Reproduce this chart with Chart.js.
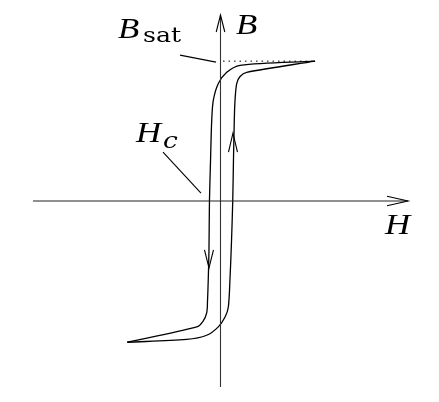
<!DOCTYPE html>
<html>
<head>
<meta charset="utf-8">
<script src="https://cdn.jsdelivr.net/npm/chart.js@4"></script>
<style>
  body { margin: 0; background: #fff; }
</style>
</head>
<body>
<canvas id="loop" width="439" height="402"></canvas>
<script>
// descending branch (from +saturation down to -saturation)
const H_DOWN = [7.88, 1.63, 0.52, -0.18, -0.6, -0.73, -0.83, -0.92, -0.96, -1.02, -1.08, -1.15, -1.46, -1.98, -7.77];
const B_DOWN = [1.0, 0.97, 0.92, 0.84, 0.72, 0.58, 0.29, 0, -0.35, -0.56, -0.71, -0.8, -0.86, -0.9, -1.01];
// ascending branch
const H_UP = [-7.77, -2.82, -1.15, -0.18, 0.38, 0.65, 0.79, 0.92, 1.02, 1.08, 1.15, 1.21, 1.35, 1.63, 2.18, 7.88];
const B_UP = [-1.01, -0.99, -0.96, -0.9, -0.83, -0.76, -0.56, -0.28, 0, 0.29, 0.58, 0.72, 0.84, 0.89, 0.92, 1.0];

const B_SAT = 1.0;
const H_MAX = 15.625, B_MAX = 1.33;

function pts(xs, ys) { return xs.map((x, i) => ({x: x, y: ys[i]})); }

// arrows on curve and axis ends: tip position and direction
const arrows = [
  {h: 1.04, b: 0.486, dir: 'up', len: 19, half: 4.5},
  {h: -0.96, b: -0.479, dir: 'down', len: 18, half: 4.5},
  {h: H_MAX, b: 0, dir: 'right', len: 21, half: 4.7},
  {h: 0, b: B_MAX, dir: 'up', len: 17, half: 4.3}
];

// leader lines for labels
const leaders = [
  [-3.375, 1.043, -0.375, 0.993],
  [-4.79, 0.35, -1.625, 0.057]
];

const MAIN_FONT = "italic 29px 'Liberation Serif'";
const STRETCH = 1.2;
const labels = [
  {h: 1.29, b: 1.193, main: 'B'},
  {h: 13.71, b: -0.236, main: 'H'},
  {h: -8.54, b: 1.164, main: 'B', sub: 'sat', subFont: "21px 'DejaVu Serif'", dx: 25, dy: 3.7},
  {h: -7.04, b: 0.424, main: 'H', sub: 'c', subFont: "italic 22px 'DejaVu Serif'", dx: 27, dy: 6.3}
];

function stretchedText(ctx, txt, font, x, y) {
  ctx.save();
  ctx.font = font;
  ctx.translate(x, y);
  ctx.scale(STRETCH, 1);
  ctx.fillText(txt, 0, 0);
  ctx.restore();
}

const overlay = {
  id: 'overlay',
  afterDatasetsDraw(chart) {
    const ctx = chart.ctx, sx = chart.scales.x, sy = chart.scales.y;
    ctx.save();
    ctx.strokeStyle = '#000';
    ctx.lineWidth = 1.1;
    leaders.forEach(l => {
      ctx.beginPath();
      ctx.moveTo(sx.getPixelForValue(l[0]), sy.getPixelForValue(l[1]));
      ctx.lineTo(sx.getPixelForValue(l[2]), sy.getPixelForValue(l[3]));
      ctx.stroke();
    });
    arrows.forEach(a => {
      const x = sx.getPixelForValue(a.h), y = sy.getPixelForValue(a.b);
      let dx = 0, dy = 0;
      if (a.dir === 'up') dy = 1;
      if (a.dir === 'down') dy = -1;
      if (a.dir === 'right') dx = -1;
      const bx = x + dx * a.len, by = y + dy * a.len;
      ctx.beginPath();
      ctx.moveTo(bx + dy * a.half, by + dx * a.half);
      ctx.lineTo(x, y);
      ctx.lineTo(bx - dy * a.half, by - dx * a.half);
      ctx.stroke();
    });
    ctx.fillStyle = '#000';
    ctx.textBaseline = 'alphabetic';
    labels.forEach(t => {
      const x = sx.getPixelForValue(t.h), y = sy.getPixelForValue(t.b);
      stretchedText(ctx, t.main, MAIN_FONT, x, y);
      if (t.sub) stretchedText(ctx, t.sub, t.subFont, x + t.dx, y + t.dy);
    });
    ctx.restore();
  }
};

new Chart(document.getElementById('loop'), {
  type: 'scatter',
  data: {
    datasets: [{
      data: [{x: -H_MAX, y: 0}, {x: H_MAX, y: 0}],
      showLine: true, borderColor: '#222', borderWidth: 1.1, pointRadius: 0, tension: 0
    }, {
      data: [{x: 0, y: -B_MAX}, {x: 0, y: B_MAX}],
      showLine: true, borderColor: '#333', borderWidth: 1.1, pointRadius: 0, tension: 0
    }, {
      data: [{x: 0.21, y: B_SAT}, {x: 7.88, y: B_SAT}],
      showLine: true, borderColor: '#000', borderWidth: 1, borderDash: [1.5, 4],
      pointRadius: 0, tension: 0
    }, {
      data: pts(H_DOWN, B_DOWN),
      showLine: true, borderColor: '#000', borderWidth: 1.3, pointRadius: 0, tension: 0.3
    }, {
      data: pts(H_UP, B_UP),
      showLine: true, borderColor: '#000', borderWidth: 1.3, pointRadius: 0, tension: 0.3
    }]
  },
  options: {
    responsive: false,
    animation: false,
    clip: false,
    layout: {padding: {left: 33, right: 31, top: 15, bottom: 15}},
    plugins: {legend: {display: false}, tooltip: {enabled: false}},
    scales: {
      x: {type: 'linear', min: -H_MAX, max: H_MAX, display: false},
      y: {type: 'linear', min: -B_MAX, max: B_MAX, display: false}
    }
  },
  plugins: [overlay]
});
</script>
</body>
</html>
